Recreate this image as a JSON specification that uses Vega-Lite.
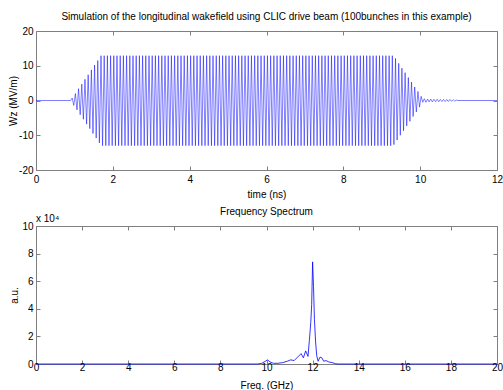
{
"$schema":"https://vega.github.io/schema/vega-lite/v6.json",
"autosize":{"type":"pad"},
"padding":{"left":8,"top":11,"right":0,"bottom":0},
"background":"white",
"config":{
"font":"Liberation Sans",
"view":{"stroke":"#7f7f7f","strokeWidth":1},
"axis":{"labelFont":"Liberation Sans","labelFontSize":10,"labelColor":"#000","titleFont":"Liberation Sans","titleFontSize":10,"titleFontWeight":"normal","titleColor":"#000","domain":false,"ticks":false,"grid":true,"gridColor":"#7f7f7f","gridOpacity":1,"gridWidth":1,"labelFlush":false,"labelOverlap":false,"labelExpr":"'' + datum.value"},
"title":{"font":"Liberation Sans","fontSize":10,"fontWeight":"normal","color":"#000","anchor":"middle","frame":"group"}
},
"spacing":56,
"bounds":"flush",
"vconcat":[
{
"title":{"text":"Simulation of the longitudinal wakefield using CLIC drive beam (100bunches in this example)","offset":4},
"width":461,"height":139,
"data":{"values":[
{"t":0,"w":0},{"t":0.9,"w":0},
{"t":0.942,"w":0.7},{"t":0.983,"w":-1.4},{"t":1.025,"w":2.0},{"t":1.067,"w":-2.7},{"t":1.108,"w":3.4},{"t":1.15,"w":-4.1},{"t":1.192,"w":4.7},{"t":1.233,"w":-5.4},{"t":1.275,"w":6.1},{"t":1.317,"w":-6.8},{"t":1.358,"w":7.4},{"t":1.4,"w":-8.1},{"t":1.442,"w":8.8},{"t":1.483,"w":-9.5},{"t":1.525,"w":10.2},{"t":1.567,"w":-10.8},{"t":1.608,"w":11.5},{"t":1.65,"w":-12.2},{"t":1.692,"w":12.9},{"t":1.733,"w":-13},
{"t":1.775,"w":12.9},{"t":1.817,"w":-13},{"t":1.858,"w":12.9},
{"t":1.9,"w":-13},{"t":1.942,"w":12.9},{"t":1.983,"w":-13},{"t":2.025,"w":12.9},{"t":2.067,"w":-13},{"t":2.108,"w":12.9},{"t":2.15,"w":-13},{"t":2.192,"w":12.9},{"t":2.233,"w":-13},{"t":2.275,"w":12.9},{"t":2.317,"w":-13},{"t":2.358,"w":12.9},{"t":2.4,"w":-13},{"t":2.442,"w":12.9},{"t":2.483,"w":-13},{"t":2.525,"w":12.9},{"t":2.567,"w":-13},{"t":2.608,"w":12.9},{"t":2.65,"w":-13},{"t":2.692,"w":12.9},{"t":2.733,"w":-13},{"t":2.775,"w":12.9},{"t":2.817,"w":-13},{"t":2.858,"w":12.9},
{"t":2.9,"w":-13},{"t":2.942,"w":12.9},{"t":2.983,"w":-13},{"t":3.025,"w":12.9},{"t":3.067,"w":-13},{"t":3.108,"w":12.9},{"t":3.15,"w":-13},{"t":3.192,"w":12.9},{"t":3.233,"w":-13},{"t":3.275,"w":12.9},{"t":3.317,"w":-13},{"t":3.358,"w":12.9},{"t":3.4,"w":-13},{"t":3.442,"w":12.9},{"t":3.483,"w":-13},{"t":3.525,"w":12.9},{"t":3.567,"w":-13},{"t":3.608,"w":12.9},{"t":3.65,"w":-13},{"t":3.692,"w":12.9},{"t":3.733,"w":-13},{"t":3.775,"w":12.9},{"t":3.817,"w":-13},{"t":3.858,"w":12.9},
{"t":3.9,"w":-13},{"t":3.942,"w":12.9},{"t":3.983,"w":-13},{"t":4.025,"w":12.9},{"t":4.067,"w":-13},{"t":4.108,"w":12.9},{"t":4.15,"w":-13},{"t":4.192,"w":12.9},{"t":4.233,"w":-13},{"t":4.275,"w":12.9},{"t":4.317,"w":-13},{"t":4.358,"w":12.9},{"t":4.4,"w":-13},{"t":4.442,"w":12.9},{"t":4.483,"w":-13},{"t":4.525,"w":12.9},{"t":4.567,"w":-13},{"t":4.608,"w":12.9},{"t":4.65,"w":-13},{"t":4.692,"w":12.9},{"t":4.733,"w":-13},{"t":4.775,"w":12.9},{"t":4.817,"w":-13},{"t":4.858,"w":12.9},
{"t":4.9,"w":-13},{"t":4.942,"w":12.9},{"t":4.983,"w":-13},{"t":5.025,"w":12.9},{"t":5.067,"w":-13},{"t":5.108,"w":12.9},{"t":5.15,"w":-13},{"t":5.192,"w":12.9},{"t":5.233,"w":-13},{"t":5.275,"w":12.9},{"t":5.317,"w":-13},{"t":5.358,"w":12.9},{"t":5.4,"w":-13},{"t":5.442,"w":12.9},{"t":5.483,"w":-13},{"t":5.525,"w":12.9},{"t":5.567,"w":-13},{"t":5.608,"w":12.9},{"t":5.65,"w":-13},{"t":5.692,"w":12.9},{"t":5.733,"w":-13},{"t":5.775,"w":12.9},{"t":5.817,"w":-13},{"t":5.858,"w":12.9},
{"t":5.9,"w":-13},{"t":5.942,"w":12.9},{"t":5.983,"w":-13},{"t":6.025,"w":12.9},{"t":6.067,"w":-13},{"t":6.108,"w":12.9},{"t":6.15,"w":-13},{"t":6.192,"w":12.9},{"t":6.233,"w":-13},{"t":6.275,"w":12.9},{"t":6.317,"w":-13},{"t":6.358,"w":12.9},{"t":6.4,"w":-13},{"t":6.442,"w":12.9},{"t":6.483,"w":-13},{"t":6.525,"w":12.9},{"t":6.567,"w":-13},{"t":6.608,"w":12.9},{"t":6.65,"w":-13},{"t":6.692,"w":12.9},{"t":6.733,"w":-13},{"t":6.775,"w":12.9},{"t":6.817,"w":-13},{"t":6.858,"w":12.9},
{"t":6.9,"w":-13},{"t":6.942,"w":12.9},{"t":6.983,"w":-13},{"t":7.025,"w":12.9},{"t":7.067,"w":-13},{"t":7.108,"w":12.9},{"t":7.15,"w":-13},{"t":7.192,"w":12.9},{"t":7.233,"w":-13},{"t":7.275,"w":12.9},{"t":7.317,"w":-13},{"t":7.358,"w":12.9},{"t":7.4,"w":-13},{"t":7.442,"w":12.9},{"t":7.483,"w":-13},{"t":7.525,"w":12.9},{"t":7.567,"w":-13},{"t":7.608,"w":12.9},{"t":7.65,"w":-13},{"t":7.692,"w":12.9},{"t":7.733,"w":-13},{"t":7.775,"w":12.9},{"t":7.817,"w":-13},{"t":7.858,"w":12.9},
{"t":7.9,"w":-13},{"t":7.942,"w":12.9},{"t":7.983,"w":-13},{"t":8.025,"w":12.9},{"t":8.067,"w":-13},{"t":8.108,"w":12.9},{"t":8.15,"w":-13},{"t":8.192,"w":12.9},{"t":8.233,"w":-13},{"t":8.275,"w":12.9},{"t":8.317,"w":-13},{"t":8.358,"w":12.9},{"t":8.4,"w":-13},{"t":8.442,"w":12.9},{"t":8.483,"w":-13},{"t":8.525,"w":12.9},{"t":8.567,"w":-13},{"t":8.608,"w":12.9},{"t":8.65,"w":-13},{"t":8.692,"w":12.9},{"t":8.733,"w":-13},{"t":8.775,"w":12.9},{"t":8.817,"w":-13},{"t":8.858,"w":12.9},
{"t":8.9,"w":-13},{"t":8.942,"w":12.9},{"t":8.983,"w":-13},{"t":9.025,"w":12.9},{"t":9.067,"w":-13},{"t":9.108,"w":12.9},{"t":9.15,"w":-13},{"t":9.192,"w":12.9},{"t":9.233,"w":-13},{"t":9.275,"w":12.9},
{"t":9.317,"w":-12.7},{"t":9.358,"w":12.1},{"t":9.4,"w":-11.4},{"t":9.442,"w":10.7},{"t":9.483,"w":-10.0},{"t":9.525,"w":9.3},{"t":9.567,"w":-8.7},{"t":9.608,"w":8.0},{"t":9.65,"w":-7.3},{"t":9.692,"w":6.6},{"t":9.733,"w":-6.0},{"t":9.775,"w":5.3},{"t":9.817,"w":-4.6},{"t":9.858,"w":3.9},{"t":9.9,"w":-3.3},{"t":9.942,"w":2.6},{"t":9.983,"w":-1.9},{"t":10.025,"w":1.2},{"t":10.067,"w":-0.5},
{"t":10.108,"w":0.5},{"t":10.15,"w":-0.5},{"t":10.192,"w":0.4},{"t":10.233,"w":-0.4},{"t":10.275,"w":0.4},{"t":10.317,"w":-0.4},{"t":10.358,"w":0.35},{"t":10.4,"w":-0.35},{"t":10.442,"w":0.35},{"t":10.483,"w":-0.35},{"t":10.525,"w":0.3},{"t":10.567,"w":-0.3},{"t":10.608,"w":0.3},{"t":10.65,"w":-0.3},{"t":10.692,"w":0.3},{"t":10.733,"w":-0.3},{"t":10.775,"w":0.3},{"t":10.817,"w":-0.25},{"t":10.858,"w":0.25},{"t":10.9,"w":-0.2},{"t":10.942,"w":0.1},{"t":10.983,"w":0},{"t":12,"w":0}
]},
"mark":{"type":"line","color":"#0000ff","strokeWidth":0.5},
"encoding":{
"x":{"field":"t","type":"quantitative","scale":{"domain":[0,12],"nice":false,"zero":false},"axis":{"title":"time (ns)","values":[0,2,4,6,8,10,12],"labelOverlap":false,"labelPadding":4,"titlePadding":5.5,"gridDash":[4,131,4]}},
"y":{"field":"w","type":"quantitative","scale":{"domain":[-20,20],"nice":false},"axis":{"title":"Wz (MV/m)","values":[-20,-10,0,10,20],"labelOverlap":false,"labelPadding":3,"titlePadding":0,"gridDash":[4,453,4]}}
}
},
{
"title":{"text":"Frequency Spectrum","offset":-3},
"width":461,"height":138,
"encoding":{
"x":{"type":"quantitative","scale":{"domain":[0,20],"nice":false,"zero":false},"axis":{"title":"Freq. (GHz)","values":[0,2,4,6,8,10,12,14,16,18,20],"labelOverlap":false,"labelPadding":-2,"titlePadding":8,"gridDash":[4,130,4]}},
"y":{"type":"quantitative","scale":{"domain":[0,10],"nice":false},"axis":{"title":"a.u.","values":[0,2,4,6,8,10],"labelOverlap":false,"labelPadding":3,"titlePadding":2.5,"gridDash":[4,453,4]}}
},
"layer":[
{
"data":{"values":[
{"f":0,"a":0},{"f":9.6,"a":0},{"f":9.8,"a":0.05},{"f":9.95,"a":0.2},{"f":10.05,"a":0.3},{"f":10.15,"a":0.15},{"f":10.3,"a":0.05},{"f":10.5,"a":0.05},{"f":10.7,"a":0.1},{"f":10.9,"a":0.2},{"f":11.05,"a":0.3},{"f":11.2,"a":0.25},{"f":11.35,"a":0.5},{"f":11.5,"a":0.75},{"f":11.6,"a":0.45},{"f":11.7,"a":0.95},{"f":11.8,"a":0.55},{"f":11.86,"a":1.7},{"f":11.92,"a":3.0},{"f":11.96,"a":4.3},{"f":12.0,"a":7.4},{"f":12.04,"a":5.6},{"f":12.08,"a":3.2},{"f":12.13,"a":1.6},{"f":12.18,"a":0.6},{"f":12.24,"a":0.2},{"f":12.32,"a":0.5},{"f":12.4,"a":0.45},{"f":12.48,"a":0.2},{"f":12.58,"a":0.25},{"f":12.7,"a":0.15},{"f":12.85,"a":0.1},{"f":13.0,"a":0.02},{"f":13.1,"a":0},{"f":20,"a":0}
]},
"mark":{"type":"line","color":"#0000ff","strokeWidth":0.8},
"encoding":{
"x":{"field":"f"},
"y":{"field":"a"}
}
},
{
"data":{"values":[{"s":"x 10⁴","f":0,"a":10}]},
"mark":{"type":"text","align":"left","baseline":"alphabetic","dy":-4,"fontSize":10,"font":"Liberation Sans","color":"#000"},
"encoding":{"x":{"field":"f"},"y":{"field":"a"},"text":{"field":"s"}}
}
]
}
]
}
